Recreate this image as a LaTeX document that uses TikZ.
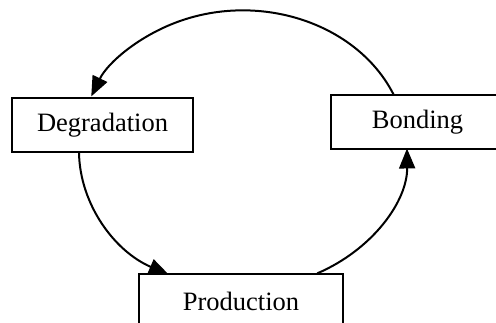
\documentclass[tikz,border=0pt]{standalone}
\usepackage{fontspec}
\setmainfont{Liberation Serif}
\usetikzlibrary{arrows.meta}
\begin{document}
\begin{tikzpicture}[x=1pt,y=1pt,
  box/.style={draw,line width=1.2pt,inner sep=0pt,minimum height=54pt,
    font=\fontsize{26.5}{30}\selectfont},
  link/.style={line width=2pt,-{Triangle[length=20pt,width=16pt]}}]
\clip (0,0) rectangle (496,322);
\node[box,minimum width=181pt] (deg) at (102.5,197) {Degradation};
\node[box,minimum width=173pt] (bond) at (417.5,200) {Bonding};
\node[box,minimum width=204pt] (prod) at (241,21) {Production};
\draw[link] ([xshift=-24pt]bond.north) arc[start angle=23.3,end angle=157.6,x radius=164,y radius=139];
\draw[link] ([xshift=-23.5pt]deg.south) arc[start angle=180.8,end angle=243.1,x radius=164,y radius=139];
\draw[link] ([xshift=76.2pt]prod.north) arc[start angle=296.9,end angle=360.4,x radius=164,y radius=139];
\end{tikzpicture}
\end{document}
